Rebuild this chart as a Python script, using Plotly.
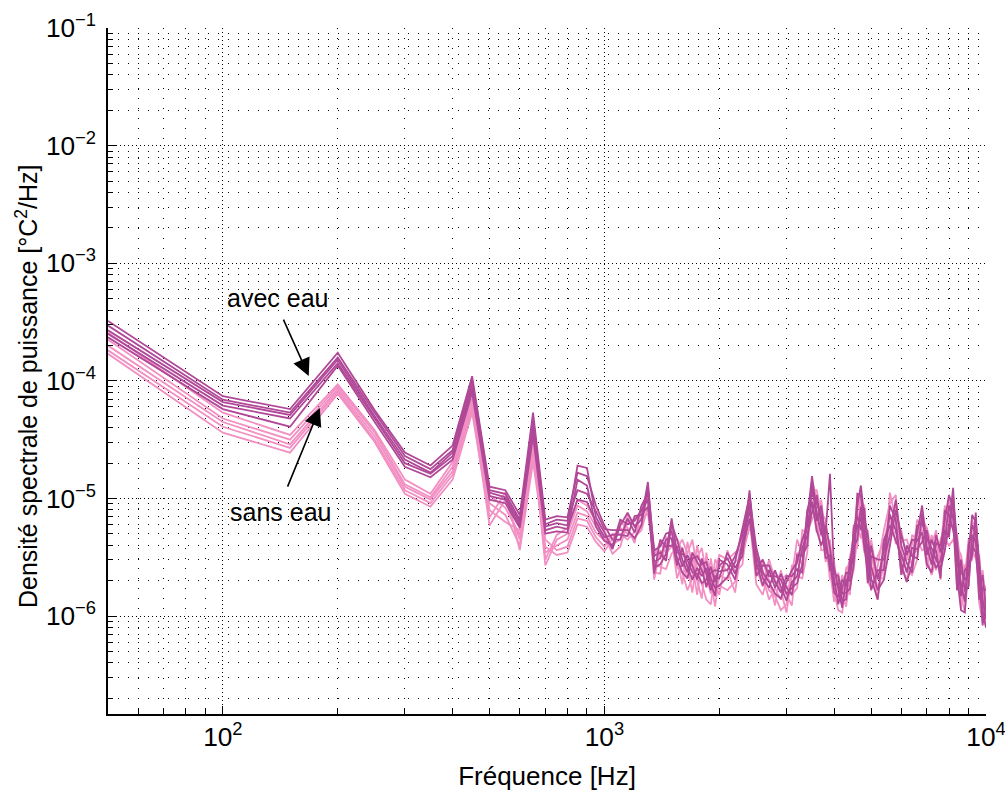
import numpy as np
import plotly.graph_objects as go

# frequency axis [Hz]
freq = [50, 100, 150, 200, 250, 300, 350, 400, 450, 500,
        550, 600, 650, 700, 750, 800, 850, 900, 950, 1000,
        1050, 1100, 1150, 1200, 1250, 1300, 1350, 1400, 1450, 1500,
        1550, 1600, 1650, 1700, 1750, 1800, 1850, 1900, 1950, 2000,
        2100, 2200, 2300, 2400, 2500, 2600, 2700, 2800, 2900, 3000,
        3100, 3200, 3300, 3400, 3500, 3600, 3700, 3800, 3900, 4000,
        4100, 4200, 4300, 4400, 4500, 4600, 4700, 4800, 4900, 5000,
        5200, 5400, 5600, 5800, 6000, 6200, 6400, 6600, 6800, 7000,
        7200, 7400, 7600, 7800, 8000, 8200, 8400, 8600, 8800, 9000,
        9200, 9400, 9600, 9800, 10000]

# PSD, log10 of [°C²/Hz] -- "avec eau" runs
avec_1 = [-3.49, -4.13, -4.24, -3.76, -4.25, -4.61, -4.72, -4.55, -3.96, -4.90,
          -4.93, -5.14, -4.27, -5.18, -5.15, -5.16, -4.78, -4.81, -5.06, -5.23,
          -5.35, -5.35, -5.17, -5.29, -5.06, -4.96, -5.64, -5.35, -5.41, -5.40,
          -5.41, -5.58, -5.48, -5.57, -5.69, -5.51, -5.64, -5.78, -5.66, -5.68,
          -5.46, -5.59, -5.49, -4.93, -5.54, -5.74, -5.61, -5.76, -5.64, -5.76,
          -5.82, -5.48, -5.49, -5.40, -4.88, -5.19, -5.06, -5.36, -5.61, -5.59,
          -5.78, -5.93, -5.69, -5.70, -5.25, -5.15, -5.27, -5.08, -5.52, -5.78,
          -5.61, -5.61, -5.06, -5.18, -5.65, -5.40, -5.49, -5.51, -5.13, -5.48,
          -5.35, -5.45, -5.68, -5.10, -5.14, -5.27, -5.46, -5.83, -5.61, -5.57,
          -5.49, -5.12, -5.69, -6.08, -5.86]
avec_2 = [-3.53, -4.16, -4.27, -3.80, -4.27, -4.64, -4.75, -4.59, -3.99, -4.93,
          -4.96, -5.18, -4.32, -5.22, -5.18, -5.19, -4.93, -4.96, -5.11, -5.26,
          -5.27, -5.27, -5.27, -5.34, -5.23, -4.91, -5.44, -5.41, -5.30, -5.28,
          -5.51, -5.63, -5.68, -5.51, -5.49, -5.56, -5.54, -5.68, -5.76, -5.74,
          -5.67, -5.54, -5.25, -4.98, -5.42, -5.63, -5.71, -5.81, -5.85, -5.71,
          -5.61, -5.54, -5.35, -5.24, -5.03, -5.27, -5.40, -5.29, -4.79, -5.64,
          -5.66, -5.81, -5.80, -5.77, -5.56, -5.06, -4.89, -5.17, -5.31, -5.58,
          -5.78, -5.69, -5.40, -5.10, -5.31, -5.48, -5.35, -5.36, -5.29, -5.56,
          -5.63, -5.38, -5.40, -5.18, -4.97, -5.08, -5.66, -5.95, -5.97, -5.48,
          -5.14, -5.20, -5.52, -5.86, -6.03]
avec_3 = [-3.57, -4.18, -4.29, -3.82, -4.30, -4.67, -4.78, -4.61, -4.03, -4.95,
          -4.99, -5.20, -4.37, -5.24, -5.21, -5.23, -4.72, -4.74, -5.16, -5.29,
          -5.43, -5.23, -5.12, -5.24, -5.18, -4.86, -5.49, -5.46, -5.53, -5.22,
          -5.35, -5.52, -5.63, -5.46, -5.54, -5.61, -5.75, -5.63, -5.61, -5.62,
          -5.61, -5.49, -5.31, -5.04, -5.66, -5.57, -5.57, -5.71, -5.80, -5.66,
          -5.66, -5.60, -5.63, -5.17, -4.81, -5.12, -5.31, -5.23, -5.42, -5.69,
          -5.90, -5.75, -5.63, -5.64, -5.48, -4.96, -4.97, -5.25, -5.72, -5.49,
          -5.52, -5.52, -5.31, -5.01, -5.40, -5.55, -5.63, -5.30, -5.06, -5.41,
          -5.56, -5.31, -5.46, -5.27, -5.33, -4.99, -5.35, -5.73, -5.88, -5.40,
          -5.23, -5.29, -5.86, -5.76, -5.78]
avec_4 = [-3.60, -4.21, -4.32, -3.85, -4.32, -4.70, -4.79, -4.64, -4.06, -4.98,
          -5.01, -5.23, -4.42, -5.27, -5.24, -5.26, -5.01, -5.03, -5.20, -5.33,
          -5.31, -5.31, -5.32, -5.15, -5.14, -5.07, -5.54, -5.51, -5.35, -5.34,
          -5.57, -5.42, -5.58, -5.69, -5.59, -5.66, -5.59, -5.73, -5.83, -5.52,
          -5.56, -5.69, -5.37, -5.10, -5.48, -5.68, -5.76, -5.61, -5.75, -5.87,
          -5.71, -5.66, -5.42, -5.32, -5.12, -4.97, -5.23, -5.51, -5.48, -5.74,
          -5.72, -5.87, -5.86, -5.52, -5.41, -5.35, -5.07, -5.34, -5.41, -5.68,
          -5.86, -5.35, -5.23, -5.35, -5.48, -5.63, -5.42, -5.43, -5.37, -5.27,
          -5.49, -5.59, -5.53, -5.35, -5.06, -5.17, -5.78, -5.52, -5.79, -5.75,
          -5.31, -5.37, -5.61, -5.97, -6.10]
avec_5 = [-3.63, -4.24, -4.39, -3.87, -4.35, -4.73, -4.82, -4.67, -4.10, -5.01,
          -5.04, -5.25, -4.47, -5.30, -5.28, -5.29, -4.84, -4.89, -5.24, -5.36,
          -5.40, -5.18, -5.22, -5.19, -5.10, -5.01, -5.59, -5.56, -5.47, -5.17,
          -5.46, -5.47, -5.52, -5.63, -5.64, -5.72, -5.69, -5.58, -5.71, -5.57,
          -5.51, -5.64, -5.43, -5.17, -5.60, -5.52, -5.66, -5.66, -5.69, -5.81,
          -5.76, -5.72, -5.56, -5.10, -4.96, -5.04, -5.14, -5.43, -5.54, -5.80,
          -5.84, -5.69, -5.75, -5.58, -5.33, -5.24, -5.16, -5.42, -5.62, -5.40,
          -5.69, -5.44, -5.14, -5.27, -5.57, -5.71, -5.56, -5.23, -5.21, -5.34,
          -5.42, -5.52, -5.60, -5.44, -5.23, -4.91, -5.56, -5.62, -5.69, -5.65,
          -5.40, -5.46, -5.78, -5.65, -5.95]

# PSD, log10 of [°C²/Hz] -- "sans eau" runs
sans_1 = [-3.59, -4.27, -4.46, -4.03, -4.42, -4.84, -4.96, -4.69, -4.15, -5.10,
          -5.20, -5.27, -4.46, -5.52, -5.31, -5.25, -5.01, -5.06, -5.20, -5.27,
          -5.43, -5.20, -5.25, -5.38, -5.08, -5.01, -5.69, -5.44, -5.53, -5.20,
          -5.51, -5.73, -5.37, -5.57, -5.82, -5.52, -5.76, -5.51, -5.73, -5.82,
          -5.44, -5.63, -5.56, -5.03, -5.66, -5.54, -5.69, -5.91, -5.61, -5.82,
          -5.91, -5.46, -5.57, -5.12, -5.01, -5.29, -5.01, -5.35, -5.69, -5.63,
          -5.88, -5.65, -5.76, -5.82, -5.23, -5.22, -5.34, -5.16, -5.60, -5.35,
          -5.68, -5.68, -4.95, -5.18, -5.65, -5.44, -5.57, -5.18, -5.27, -5.59,
          -5.31, -5.44, -5.69, -5.15, -5.29, -4.97, -5.53, -5.93, -5.57, -5.54,
          -5.52, -5.25, -5.79, -5.61, -5.91]
sans_2 = [-3.65, -4.32, -4.50, -4.05, -4.44, -4.88, -4.99, -4.73, -4.18, -4.97,
          -5.08, -5.31, -4.52, -5.57, -5.35, -5.30, -5.06, -5.11, -5.24, -5.32,
          -5.47, -5.41, -5.20, -5.18, -5.12, -4.90, -5.56, -5.58, -5.60, -5.47,
          -5.42, -5.35, -5.47, -5.35, -5.60, -5.73, -5.86, -5.90, -5.63, -5.48,
          -5.52, -5.46, -5.42, -5.17, -5.73, -5.82, -5.61, -5.63, -5.69, -5.65,
          -5.74, -5.66, -5.68, -5.46, -4.93, -4.93, -5.12, -5.18, -5.52, -5.80,
          -5.95, -5.97, -5.68, -5.48, -5.32, -5.01, -5.13, -5.36, -5.71, -5.76,
          -5.58, -5.27, -5.04, -4.97, -5.46, -5.61, -5.65, -5.52, -5.18, -5.25,
          -5.40, -5.27, -5.52, -5.34, -5.40, -5.35, -5.42, -5.48, -5.67, -5.35,
          -5.35, -5.42, -5.89, -6.05, -5.82]
sans_3 = [-3.70, -4.35, -4.54, -4.07, -4.47, -4.90, -5.01, -4.77, -4.21, -5.23,
          -5.01, -5.35, -4.57, -5.46, -5.40, -5.35, -5.12, -5.15, -5.29, -5.36,
          -5.39, -5.35, -5.14, -5.23, -5.17, -5.13, -5.49, -5.37, -5.46, -5.41,
          -5.34, -5.45, -5.58, -5.80, -5.50, -5.42, -5.66, -5.81, -5.52, -5.57,
          -5.61, -5.80, -5.35, -4.96, -5.59, -5.75, -5.52, -5.69, -5.78, -5.97,
          -5.65, -5.35, -5.47, -5.37, -4.84, -5.01, -5.22, -5.54, -5.44, -5.54,
          -5.80, -5.91, -5.59, -5.56, -5.41, -5.42, -5.03, -5.06, -5.49, -5.66,
          -5.49, -5.37, -5.13, -5.38, -5.36, -5.35, -5.48, -5.44, -5.10, -5.34,
          -5.48, -5.61, -5.44, -5.06, -5.20, -5.25, -5.31, -5.59, -5.77, -5.74,
          -5.27, -5.17, -5.69, -5.94, -5.74]
sans_4 = [-3.74, -4.39, -4.57, -4.09, -4.50, -4.93, -5.04, -4.80, -4.24, -5.04,
          -5.14, -5.40, -4.63, -5.35, -5.44, -5.41, -5.17, -5.19, -5.33, -5.41,
          -5.30, -5.30, -5.35, -5.28, -5.22, -4.96, -5.63, -5.64, -5.33, -5.34,
          -5.68, -5.54, -5.68, -5.46, -5.70, -5.85, -5.46, -5.71, -5.92, -5.65,
          -5.69, -5.54, -5.49, -5.24, -5.46, -5.68, -5.86, -5.76, -5.86, -5.74,
          -5.82, -5.76, -5.27, -5.29, -5.18, -5.10, -5.32, -5.27, -5.61, -5.88,
          -5.63, -5.82, -5.92, -5.65, -5.51, -5.12, -5.24, -5.46, -5.27, -5.56,
          -5.86, -5.47, -5.23, -5.07, -5.55, -5.71, -5.31, -5.35, -5.44, -5.42,
          -5.57, -5.35, -5.61, -5.44, -5.01, -5.16, -5.78, -5.70, -5.87, -5.45,
          -5.44, -5.51, -5.48, -5.83, -6.09]
sans_5 = [-3.77, -4.44, -4.61, -4.11, -4.52, -4.96, -5.07, -4.84, -4.27, -5.16,
          -4.95, -5.44, -4.69, -5.41, -5.48, -5.46, -5.22, -5.24, -5.37, -5.45,
          -5.34, -5.25, -5.30, -5.33, -5.27, -5.07, -5.42, -5.51, -5.40, -5.27,
          -5.59, -5.63, -5.78, -5.68, -5.40, -5.63, -5.56, -5.61, -5.83, -5.74,
          -5.78, -5.71, -5.29, -5.10, -5.52, -5.61, -5.78, -5.83, -5.95, -5.90,
          -5.57, -5.56, -5.37, -5.20, -5.10, -5.18, -5.44, -5.44, -5.35, -5.71,
          -5.71, -5.74, -5.85, -5.74, -5.61, -5.32, -4.93, -5.26, -5.38, -5.46,
          -5.77, -5.58, -5.32, -5.28, -5.27, -5.52, -5.40, -5.27, -5.35, -5.51,
          -5.65, -5.52, -5.35, -5.24, -5.11, -5.07, -5.64, -5.81, -5.97, -5.63,
          -5.18, -5.34, -5.58, -5.72, -6.00]

avec_runs = [avec_1, avec_2, avec_3, avec_4, avec_5]
sans_runs = [sans_1, sans_2, sans_3, sans_4, sans_5]

PURPLE = '#B04897'
PINK = '#F28FC3'
FONT = 'Liberation Sans, Arial, Helvetica, sans-serif'

fig = go.Figure()

# sans eau first so the avec eau runs sit on top
for run in sans_runs:
    fig.add_trace(go.Scatter(x=freq, y=10 ** np.array(run), mode='lines',
                             line=dict(color=PINK, width=1.8), showlegend=False))
for run in avec_runs:
    fig.add_trace(go.Scatter(x=freq, y=10 ** np.array(run), mode='lines',
                             line=dict(color=PURPLE, width=1.8), showlegend=False))

axis_common = dict(
    type='log',
    dtick=1,
    exponentformat='power',
    automargin=False,
    ticklabeloverflow='allow',
    showline=True, linecolor='black', linewidth=1.5,
    mirror=False,
    ticks='inside', ticklen=8, tickwidth=1, tickcolor='black',
    showgrid=True, gridcolor='black', gridwidth=1, griddash='1px,3px',
    minor=dict(ticks='inside', ticklen=5, tickcolor='black', dtick='D1',
               showgrid=True, gridcolor='black', gridwidth=1, griddash='1px,9px'),
    tickfont=dict(family=FONT, size=21, color='black'),
    zeroline=False,
)

fig.update_xaxes(axis_common, range=[np.log10(50), 4.0],
                 title=dict(text='Fréquence [Hz]', font=dict(family=FONT, size=26, color='black'),
                            standoff=16))
fig.update_yaxes(axis_common, range=[-6.833, -0.999], ticklabelstandoff=6)

# y axis title, set slightly below the middle as in the original figure
fig.add_annotation(x=-0.0923, y=0.478, xref='paper', yref='paper',
                   text='Densité spectrale de puissance [°C<sup>2</sup>/Hz]',
                   textangle=-90, showarrow=False, xanchor='center', yanchor='middle',
                   font=dict(family=FONT, size=25, color='black'))

# labels with arrows
fig.add_annotation(x=2.225, y=-3.959, ax=2.157, ay=-3.466, xref='x', yref='y',
                   axref='x', ayref='y', showarrow=True, arrowhead=2, arrowsize=2.2,
                   arrowwidth=1.6, arrowcolor='black', text='')
fig.add_annotation(x=2.254, y=-4.231, ax=2.168, ay=-4.912, xref='x', yref='y',
                   axref='x', ayref='y', showarrow=True, arrowhead=2, arrowsize=2.2,
                   arrowwidth=1.6, arrowcolor='black', text='')
fig.add_annotation(x=2.144, y=-3.296, xref='x', yref='y', text='avec eau', showarrow=False,
                   font=dict(family=FONT, size=25, color='black'))
fig.add_annotation(x=2.152, y=-5.116, xref='x', yref='y', text='sans eau', showarrow=False,
                   font=dict(family=FONT, size=25, color='black'))

fig.update_layout(
    width=1005, height=798,
    margin=dict(l=108, r=19, t=28, b=84),
    paper_bgcolor='white',
    plot_bgcolor='white',
    font=dict(family=FONT, color='black'),
    showlegend=False,
)

# drop the default page margin so the figure sits at the window's corner
fig.write_html('out.html', config={'displayModeBar': False},
               post_script="document.body.style.margin='0';")
